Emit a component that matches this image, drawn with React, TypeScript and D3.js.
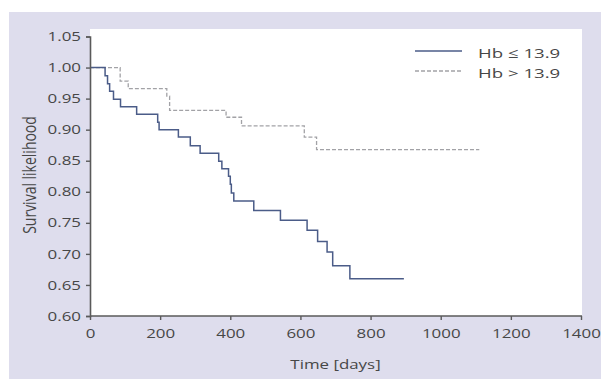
import React, { useEffect, useRef } from "react";
import * as d3 from "d3";

// Kaplan-Meier steps (days, survival)
const lowDays = [0, 43, 50, 56, 67, 87, 133, 193, 197, 252, 286, 314, 367, 376, 395, 400, 403, 410, 467, 543, 619, 649, 676, 692, 741, 895];
const lowSurv = [1.0, 0.987, 0.974, 0.962, 0.949, 0.937, 0.925, 0.912, 0.9, 0.888, 0.874, 0.862, 0.849, 0.837, 0.825, 0.812, 0.798, 0.785, 0.77, 0.754, 0.738, 0.72, 0.703, 0.681, 0.66, 0.66];
const highDays = [0, 86, 109, 219, 227, 388, 432, 611, 646, 1110];
const highSurv = [1.0, 0.978, 0.966, 0.954, 0.931, 0.92, 0.906, 0.888, 0.868, 0.868];

const xTicks = [0, 200, 400, 600, 800, 1000, 1200, 1400];
const yTicks = [0.6, 0.65, 0.7, 0.75, 0.8, 0.85, 0.9, 0.95, 1.0, 1.05];
const seriesLabels = ["Hb ≤ 13.9", "Hb > 13.9"];

const W = 601;
const H = 379;
const FONT = "'Open Sans', 'DejaVu Sans', sans-serif";
const SX = 1.3; // the reference text is drawn wide

export default function App() {
  const svgRef = useRef<SVGSVGElement>(null);

  useEffect(() => {
    const svg = d3.select(svgRef.current);
    svg.selectAll("*").remove();

    const left = 90, right = 581, top = 36.5, bottom = 316;
    const x = d3.scaleLinear().domain([0, 1400]).range([left, right]);
    const y = d3.scaleLinear().domain([0.6, 1.05]).range([bottom, top]);

    // background panel + white plot area
    svg.append("rect").attr("x", 9).attr("y", 12).attr("width", W - 9).attr("height", H - 12).attr("fill", "#dedded");
    svg.append("rect").attr("x", left).attr("y", 29).attr("width", 582 - left).attr("height", bottom - 29).attr("fill", "#ffffff");

    const line = d3
      .line<[number, number]>()
      .x((d) => x(d[0]))
      .y((d) => y(d[1]))
      .curve(d3.curveStepAfter);

    const high: [number, number][] = highDays.map((d, i) => [d, highSurv[i]]);
    const low: [number, number][] = lowDays.map((d, i) => [d, lowSurv[i]]);

    svg.append("path").attr("d", line(high)).attr("fill", "none")
      .attr("stroke", "#a2a2a6").attr("stroke-width", 1.3).attr("stroke-dasharray", "4,2");
    svg.append("path").attr("d", line(low)).attr("fill", "none")
      .attr("stroke", "#4b5c88").attr("stroke-width", 1.5);

    // axes
    const xAxis = svg.append("g").attr("transform", `translate(0,${bottom})`)
      .call(d3.axisBottom(x).tickValues(xTicks).tickSize(4).tickPadding(9).tickFormat(d3.format("d")));
    const yAxis = svg.append("g").attr("transform", `translate(${left},0)`)
      .call(d3.axisLeft(y).tickValues(yTicks).tickSize(4).tickFormat(d3.format(".2f")));

    [xAxis, yAxis].forEach((g) => {
      g.select(".domain").attr("stroke", "#5a5a5a").attr("stroke-width", 1.6);
      g.selectAll(".tick line").attr("stroke", "#5a5a5a").attr("stroke-width", 1.4);
      g.selectAll("text").attr("font-family", FONT).attr("font-size", 13).attr("fill", "#474747");
    });
    xAxis.select(".domain").attr("d", `M${left},0H582`);
    xAxis.selectAll("text").attr("transform", `scale(${SX},1)`);
    yAxis.selectAll("text").attr("x", -9 / SX).attr("transform", `scale(${SX},1)`);

    // axis titles
    svg.append("text").attr("transform", `translate(${(left + right) / 2},369) scale(${SX},1)`)
      .attr("text-anchor", "middle").attr("font-family", FONT).attr("font-size", 13).attr("fill", "#474747")
      .text("Time [days]");
    svg.append("text").attr("transform", "translate(36,175) rotate(-90) scale(1,1.25)")
      .attr("text-anchor", "middle").attr("font-family", FONT).attr("font-size", 14).attr("fill", "#474747")
      .text("Survival likelihood");

    // legend
    const legend = svg.append("g");
    seriesLabels.forEach((label, i) => {
      const ly = 51 + i * 20;
      legend.append("line").attr("x1", 415).attr("x2", 462).attr("y1", ly).attr("y2", ly)
        .attr("stroke", i === 0 ? "#4b5c88" : "#a2a2a6")
        .attr("stroke-width", i === 0 ? 1.5 : 1.3)
        .attr("stroke-dasharray", i === 0 ? null : "4,2");
      legend.append("text").attr("transform", `translate(478,${ly + 7}) scale(1.38,1)`)
        .attr("font-family", FONT).attr("font-size", 13.5).attr("fill", "#474747")
        .text(label);
    });
  }, []);

  return (
    <svg ref={svgRef} width={W} height={H} style={{ position: "absolute", left: 0, top: 0, background: "#fff" }} />
  );
}
